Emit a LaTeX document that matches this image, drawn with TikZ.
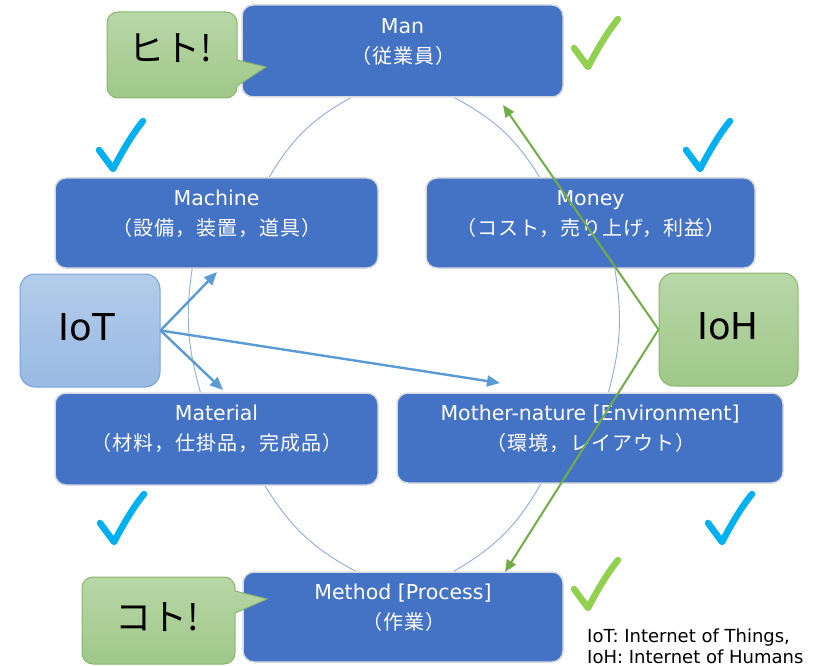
\documentclass[tikz,border=0pt]{standalone}
\usepackage{fontspec}
\setmainfont{DejaVu Sans}
\newfontfamily\jp{Noto Sans CJK JP}
\newfontfamily\jpsp{Noto Sans CJK JP}[LetterSpace=5]
\usetikzlibrary{arrows.meta}
\pgfdeclarelayer{background}
\pgfsetlayers{background,main}
\definecolor{boxblue}{RGB}{68,114,196}
\definecolor{boxedge}{RGB}{215,218,224}
\definecolor{arcc}{RGB}{143,170,220}
\definecolor{iotTop}{RGB}{180,204,234}
\definecolor{iotBot}{RGB}{152,186,227}
\definecolor{iotEdge}{RGB}{122,162,214}
\definecolor{gTop}{RGB}{184,215,168}
\definecolor{gBot}{RGB}{160,200,137}
\definecolor{gEdge}{RGB}{138,180,108}
\definecolor{chkgreen}{RGB}{146,208,80}
\definecolor{chkblue}{RGB}{0,176,240}
\definecolor{arrowblue}{RGB}{91,155,213}
\definecolor{arrowgreen}{RGB}{112,173,71}
\newcommand\latf{\fontsize{20.5}{24}\selectfont}
\newcommand\jpf{\jpsp\fontsize{20}{24}\selectfont}
\newcommand\bigjp{\jp\fontsize{36}{40}\selectfont}
\newcommand\biglat{\fontsize{37}{40}\selectfont}
\tikzset{
  mbox/.style={draw=boxedge, line width=1.5pt, fill=boxblue, rounded corners=11pt, inner sep=0pt},
  ltxt/.style={anchor=base, text=white, font=\latf, inner sep=0pt},
  jtxt/.style={anchor=base, text=white, font=\jpf, inner sep=0pt},
  arcl/.style={draw=arcc, line width=0.9pt},
  barrow/.style={draw=arrowblue, line width=2.4pt, -{Triangle[length=13pt,width=11pt]}},
  garrow/.style={draw=arrowgreen, line width=2pt, -{Triangle[length=12pt,width=10pt]}},
  iotbox/.style={draw=iotEdge, line width=1pt, top color=iotTop, bottom color=iotBot, rounded corners=15pt, inner sep=0pt},
  iohbox/.style={draw=gEdge, line width=1pt, top color=gTop, bottom color=gBot, rounded corners=15pt, inner sep=0pt},
  callout/.style={draw=gEdge, line width=1pt, top color=gTop, bottom color=gBot},
  chk/.pic={\draw[line width=6.5pt, line cap=round, line join=round, draw=#1] (-14,-19) -- (0,0) .. controls (9,-17) and (18,-33) .. (30,-48);}
}
\begin{document}
\begin{tikzpicture}[x=1pt,y=-1pt]
\useasboundingbox (0,0) rectangle (817,666);
% main boxes
\node[mbox, minimum width=321pt, minimum height=92pt] (man) at (402.5,51) {};
\node[mbox, minimum width=323pt, minimum height=90pt] (machine) at (216.5,223) {};
\node[mbox, minimum width=329pt, minimum height=90pt] (money) at (590.5,223) {};
\node[mbox, minimum width=323pt, minimum height=92pt] (material) at (216.5,439) {};
\node[mbox, minimum width=386pt, minimum height=90pt] (mother) at (590,438) {};
\node[mbox, minimum width=320pt, minimum height=90pt] (method) at (403,617) {};
% cycle arcs
\begin{pgfonlayer}{background}
\draw[arcl] (man.222.3) to[bend right=15] (machine.41.7);
\draw[arcl] (machine.242.4) to[bend right=12] (material.109.7);
\draw[arcl] (material.316.5) to[bend right=15] (method.136.8);
\draw[arcl] (mother.223.8) to[bend left=15] (method.42);
\draw[arcl] (money.298.6) to[bend left=12] (mother.68.2);
\draw[arcl] (man.318.2) to[bend left=15] (money.138.3);
\end{pgfonlayer}
% box texts
\node[ltxt] (mant) at ([yshift=-29pt]man.north) {Man};
\node[jtxt] (manj) at ([xshift=0.5pt,yshift=-59pt]man.north) {（従業員）};
\node[ltxt] (macht) at ([yshift=-28.5pt]machine.north) {Machine};
\node[jtxt] (machj) at ([xshift=0.5pt,yshift=-58.5pt]machine.north) {（設備，装置，道具）};
\node[ltxt] (monet) at ([yshift=-28.5pt]money.north) {Money};
\node[jtxt] (monej) at ([xshift=0.5pt,yshift=-58.5pt]money.north) {（コスト，売り上げ，利益）};
\node[ltxt] (matet) at ([yshift=-28.5pt]material.north) {Material};
\node[jtxt] (matej) at ([xshift=0.5pt,yshift=-58.5pt]material.north) {（材料，仕掛品，完成品）};
\node[ltxt] (motht) at ([yshift=-28.5pt]mother.north) {Mother-nature [Environment]};
\node[jtxt] (mothj) at ([xshift=0.5pt,yshift=-58.5pt]mother.north) {（環境，レイアウト）};
\node[ltxt] (metht) at ([yshift=-28.5pt]method.north) {Method [Process]};
\node[jtxt] (methj) at ([xshift=0.5pt,yshift=-58.5pt]method.north) {（作業）};
% IoT / IoH boxes
\node[iotbox, minimum width=140pt, minimum height=113pt] (iot) at (90,330.5) {};
\node[anchor=base, font=\biglat, inner sep=0pt] (iott) at (87,340) {IoT};
\node[iohbox, minimum width=139pt, minimum height=113pt] (ioh) at (728.5,329.5) {};
\node[anchor=base, font=\biglat, inner sep=0pt] (ioht) at (728,339) {IoH};
% callouts
\path[callout] (118,12) -- (226,12) .. controls (232.1,12) and (237,16.9) .. (237,23) -- (237,60) -- (266,67) -- (237,86) -- (237,87) .. controls (237,93.1) and (232.1,98) .. (226,98) -- (118,98) .. controls (111.9,98) and (107,93.1) .. (107,87) -- (107,23) .. controls (107,16.9) and (111.9,12) .. (118,12) -- cycle;
\node[anchor=base, font=\bigjp, inner sep=0pt] (hito) at (170,62) {ヒト!};
\path[callout] (93,577) -- (224,577) .. controls (230.1,577) and (235,581.9) .. (235,588) -- (235,591) -- (267,599) -- (235,613) -- (235,653) .. controls (235,659.1) and (230.1,664) .. (224,664) -- (93,664) .. controls (86.9,664) and (82,659.1) .. (82,653) -- (82,588) .. controls (82,581.9) and (86.9,577) .. (93,577) -- cycle;
\node[anchor=base, font=\bigjp, inner sep=0pt] (koto) at (157,630) {コト!};
% arrows
\coordinate (t1) at (217,272);
\coordinate (t2) at (223,390);
\coordinate (t3) at (500,383);
\coordinate (g1) at (503,105);
\coordinate (g2) at (505,572);
\draw[barrow] (iot.east) -- (t1);
\draw[barrow] (iot.east) -- (t2);
\draw[barrow] (iot.east) -- (t3);
\draw[garrow] (ioh.west) -- (g1);
\draw[garrow] (ioh.west) -- (g2);
% check marks
\pic at (113,169) {chk=chkblue};
\pic at (700,169) {chk=chkblue};
\pic at (114,542) {chk=chkblue};
\pic at (722,542) {chk=chkblue};
\pic at (588,67) {chk=chkgreen};
\pic at (588,608) {chk=chkgreen};
% footnote
\node[anchor=base west, font=\fontsize{18}{21}\selectfont, inner sep=0pt] (fn1) at (587,642) {IoT: Internet of Things,};
\node[anchor=base west, font=\fontsize{18}{21}\selectfont, inner sep=0pt] (fn2) at (587,663) {IoH: Internet of Humans};
\end{tikzpicture}
\end{document}
